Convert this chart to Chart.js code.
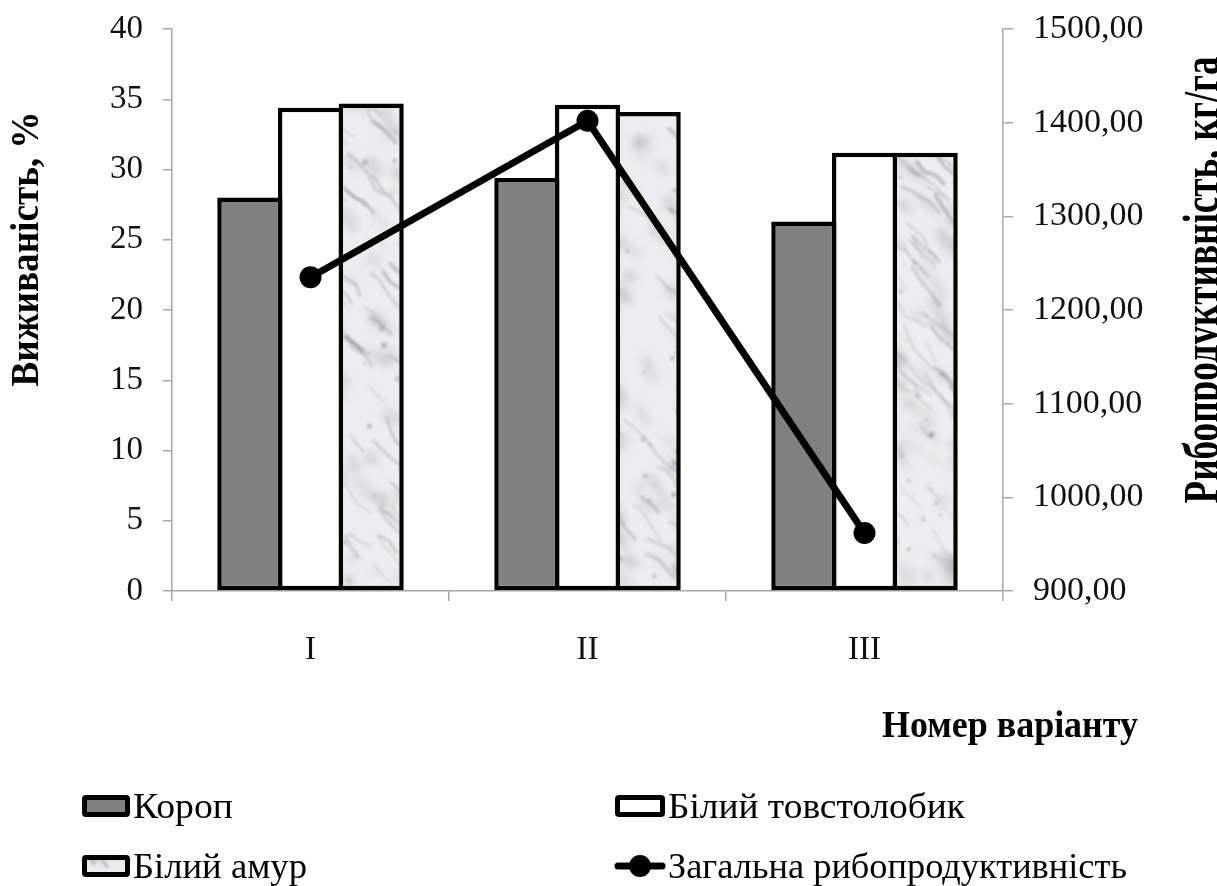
<!DOCTYPE html>
<html lang="uk">
<head>
<meta charset="utf-8">
<title>Виживаність і рибопродуктивність</title>
<script src="https://cdn.jsdelivr.net/npm/chart.js@4.4.1/dist/chart.umd.min.js"></script>
<style>
  html, body { margin: 0; padding: 0; background: #fff; }
  #wrap { position: relative; width: 1217px; height: 886px; overflow: hidden; }
  canvas { display: block; }
</style>
</head>
<body>
<div id="wrap"><canvas id="chart" width="1217" height="886"></canvas></div>
<script>
// Варіанти досліду
const categories = ['I', 'II', 'III'];

// Виживаність, %
const koropValues = [28.0, 29.4, 26.3];
const tovstolobykValues = [34.4, 34.6, 31.2];
const amurValues = [34.7, 34.1, 31.2];

// Загальна рибопродуктивність, кг/га
const productivityValues = [1235, 1402, 962];

// Підписи
const seriesNames = ['Короп', 'Білий товстолобик', 'Білий амур', 'Загальна рибопродуктивність'];
const leftAxisTitle = 'Виживаність, %';
const rightAxisTitle = 'Рибопродуктивність, кг/га';
const xAxisTitle = 'Номер варіанту';

const SERIF = '"Liberation Serif", "Times New Roman", serif';
const AXIS_GREY = '#a6a6a6';
const W = 1217, H = 886;

// Мармурова заливка для стовпців «Білий амур» (на весь розмір полотна, без повторів)
function marblePattern() {
  let seed = 24691;
  const rnd = () => { seed = (seed * 16807) % 2147483647; return seed / 2147483647; };
  const layer = () => { const c = document.createElement('canvas'); c.width = W; c.height = H; return c; };

  // м'які хмарні плями
  const blobs = layer(), bg = blobs.getContext('2d');
  for (let i = 0; i < 1400; i++) {
    bg.fillStyle = 'rgba(140,140,148,' + (0.12 + rnd() * 0.26).toFixed(3) + ')';
    bg.beginPath();
    bg.ellipse(rnd() * W, rnd() * H, 4 + rnd() * 12, 2 + rnd() * 5, 0.6 + rnd() * 0.5, 0, Math.PI * 2);
    bg.fill();
  }
  // прожилки
  const veins = layer(), vg = veins.getContext('2d');
  for (let i = 0; i < 1200; i++) {
    vg.strokeStyle = 'rgba(105,105,112,' + (0.12 + rnd() * 0.3).toFixed(3) + ')';
    vg.lineWidth = 1 + rnd() * 2.5;
    vg.beginPath();
    let x = rnd() * W, y = rnd() * H;
    vg.moveTo(x, y);
    const steps = 2 + Math.floor(rnd() * 3);
    for (let k = 0; k < steps; k++) {
      x += 4 + rnd() * 9;
      y += 4 + rnd() * 10;
      vg.lineTo(x, y);
    }
    vg.stroke();
  }
  for (let i = 0; i < 700; i++) {
    vg.fillStyle = 'rgba(110,110,118,' + (0.2 + rnd() * 0.3).toFixed(3) + ')';
    vg.beginPath();
    vg.arc(rnd() * W, rnd() * H, 1 + rnd() * 2, 0, Math.PI * 2);
    vg.fill();
  }

  const out = layer(), g = out.getContext('2d');
  g.fillStyle = '#ededef';
  g.fillRect(0, 0, W, H);
  g.filter = 'blur(4px)';
  g.drawImage(blobs, 0, 0);
  g.filter = 'blur(1.5px)';
  g.drawImage(veins, 0, 0);
  g.filter = 'none';
  return document.getElementById('chart').getContext('2d').createPattern(out, 'no-repeat');
}
const marble = marblePattern();

// Текст, стиснутий або розтягнутий уздовж рядка до заданої довжини
function fittedText(ctx, text, font, x, y, length, angle, align) {
  ctx.save();
  ctx.font = font;
  const w = ctx.measureText(text).width;
  ctx.translate(x, y);
  ctx.rotate(angle);
  ctx.scale(length / w, 1);
  ctx.textAlign = align;
  ctx.textBaseline = 'alphabetic';
  ctx.fillStyle = '#000';
  ctx.fillText(text, 0, 0);
  ctx.restore();
}

// Назви осей і легенда
const decorations = {
  id: 'decorations',
  afterDraw(chart) {
    const ctx = chart.ctx;
    fittedText(ctx, leftAxisTitle, 'bold 40px ' + SERIF, 38, 249, 275, -Math.PI / 2, 'center');
    fittedText(ctx, rightAxisTitle, 'bold 50px ' + SERIF, 1218, 280, 447, -Math.PI / 2, 'center');
    fittedText(ctx, xAxisTitle, 'bold 37px ' + SERIF, 882, 737, 256, 0, 'left');

    const ds = chart.data.datasets;
    const items = [
      { i: 0, x: 82, yc: 806, w: 48, tw: 100 },
      { i: 1, x: 615, yc: 806, w: 50, tw: 297 },
      { i: 2, x: 82, yc: 866, w: 48, tw: 174 },
      { i: 3, x: 615, yc: 866, w: 50, tw: 459 }
    ];
    items.forEach(it => {
      const d = ds[it.i];
      ctx.save();
      if (d.type === 'line') {
        ctx.strokeStyle = d.borderColor;
        ctx.lineWidth = 7;
        ctx.lineCap = 'round';
        ctx.beginPath();
        ctx.moveTo(it.x + 3, it.yc);
        ctx.lineTo(it.x + it.w - 3, it.yc);
        ctx.stroke();
        ctx.fillStyle = d.pointBackgroundColor;
        ctx.beginPath();
        ctx.arc(it.x + it.w / 2, it.yc, 11, 0, Math.PI * 2);
        ctx.fill();
      } else {
        const h = 22;
        ctx.fillStyle = '#000';
        ctx.beginPath();
        ctx.roundRect(it.x, it.yc - h / 2, it.w, h, 4);
        ctx.fill();
        ctx.fillStyle = d.backgroundColor;
        ctx.fillRect(it.x + 5, it.yc - h / 2 + 5, it.w - 10, h - 10);
      }
      ctx.restore();
      fittedText(ctx, d.label, '35px ' + SERIF, it.x + it.w + 3, it.yc + 12, it.tw, 0, 'left');
    });
  }
};

// Однакова товщина рамки всіх стовпців; сусідні стовпці перекривають рамки
const barStyle = {
  borderColor: '#000',
  borderWidth: 4.5,
  borderSkipped: false,
  categoryPercentage: 0.657,
  barPercentage: 1.074,
  yAxisID: 'y',
  order: 1
};

// Вертикальні осі не резервують місця над крайніми підписами
function fixVertical(width) {
  return scale => { scale.width = width; scale.paddingTop = 0; scale.paddingBottom = 0; };
}

new Chart(document.getElementById('chart'), {
  type: 'bar',
  data: {
    labels: categories,
    datasets: [
      Object.assign({ label: seriesNames[0], data: koropValues, backgroundColor: '#808080' }, barStyle),
      Object.assign({ label: seriesNames[1], data: tovstolobykValues, backgroundColor: '#ffffff' }, barStyle),
      Object.assign({ label: seriesNames[2], data: amurValues, backgroundColor: marble }, barStyle),
      {
        type: 'line',
        label: seriesNames[3],
        data: productivityValues,
        yAxisID: 'y1',
        borderColor: '#000',
        borderWidth: 7,
        pointRadius: 11,
        pointBackgroundColor: '#000',
        pointBorderColor: '#000',
        pointBorderWidth: 0,
        tension: 0,
        order: 0
      }
    ]
  },
  options: {
    responsive: false,
    devicePixelRatio: 1,
    animation: false,
    events: [],
    layout: { padding: { top: 29, left: 0, right: 0, bottom: 0 } },
    plugins: { legend: { display: false }, tooltip: { enabled: false } },
    scales: {
      x: {
        grid: { display: true, offset: true, drawOnChartArea: false, color: AXIS_GREY, tickLength: 10, lineWidth: 1.5 },
        border: { display: true, color: AXIS_GREY, width: 1.5 },
        ticks: { color: '#111', font: { family: SERIF, size: 33 }, padding: 30 },
        afterFit(scale) { scale.height = 295; }
      },
      y: {
        position: 'left',
        min: 0, max: 40,
        grid: { display: true, drawOnChartArea: false, color: AXIS_GREY, tickLength: 9, lineWidth: 1.5 },
        border: { display: true, color: AXIS_GREY, width: 1.5 },
        ticks: { stepSize: 5, color: '#111', font: { family: SERIF, size: 33 }, padding: 20 },
        afterFit: fixVertical(172)
      },
      y1: {
        position: 'right',
        min: 900, max: 1500,
        grid: { display: true, drawOnChartArea: false, color: AXIS_GREY, tickLength: 10, lineWidth: 1.5 },
        border: { display: true, color: AXIS_GREY, width: 1.5 },
        ticks: {
          stepSize: 100, color: '#111', font: { family: SERIF, size: 34 }, padding: 20,
          callback: v => v.toFixed(2).replace('.', ',')
        },
        afterFit: fixVertical(214)
      }
    }
  },
  plugins: [decorations]
});
</script>
</body>
</html>
